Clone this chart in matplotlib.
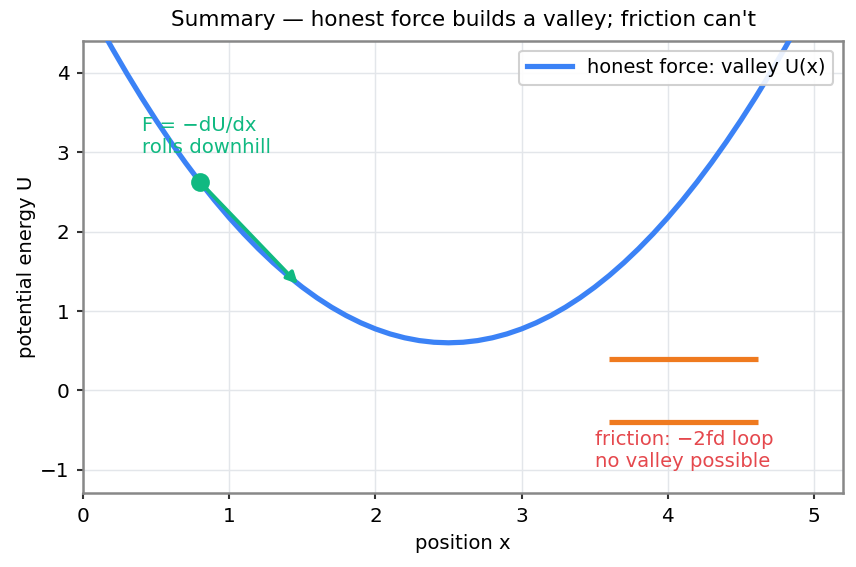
import matplotlib
matplotlib.use("Agg")
import matplotlib.pyplot as plt

# curve samples
x_vals = [0.0, 0.1, 0.2, 0.3, 0.4, 0.5, 0.6, 0.7, 0.8, 0.9, 1.0, 1.1, 1.2, 1.3, 1.4,
          1.5, 1.6, 1.7, 1.8, 1.9, 2.0, 2.1, 2.2, 2.3, 2.4, 2.5, 2.6, 2.7, 2.8, 2.9,
          3.0, 3.1, 3.2, 3.3, 3.4, 3.5, 3.6, 3.7, 3.8, 3.9, 4.0, 4.1, 4.2, 4.3, 4.4,
          4.5, 4.6, 4.7, 4.8, 4.9, 5.0]
u_vals = [4.975, 4.632, 4.303, 3.988, 3.687, 3.400, 3.127, 2.868, 2.623, 2.392, 2.175,
          1.972, 1.783, 1.608, 1.447, 1.300, 1.167, 1.048, 0.943, 0.852, 0.775, 0.712,
          0.663, 0.628, 0.607, 0.600, 0.607, 0.628, 0.663, 0.712, 0.775, 0.852, 0.943,
          1.048, 1.167, 1.300, 1.447, 1.608, 1.783, 1.972, 2.175, 2.392, 2.623, 2.868,
          3.127, 3.400, 3.687, 3.988, 4.303, 4.632, 4.975]

ball_x, ball_u = 0.8, 2.623
arrow_end_x, arrow_end_u = 1.47, 1.34
friction_x = [3.6, 4.62]
friction_levels = [0.4, -0.4]

BLUE = "#3b82f6"
GREEN = "#10b981"
ORANGE = "#ef7a1f"
RED = "#e5484d"

fig = plt.figure(figsize=(856/150, 567/150), dpi=150)
ax = fig.add_axes([0.097, 0.1305, 0.888, 0.7975])

ax.plot(x_vals, u_vals, color=BLUE, lw=2.5, label="honest force: valley U(x)", zorder=3)
ax.plot([ball_x], [ball_u], "o", color=GREEN, ms=8, zorder=5)
ax.annotate("", xy=(arrow_end_x, arrow_end_u), xytext=(ball_x, ball_u),
            arrowprops=dict(arrowstyle="-|>", color=GREEN, lw=1.8, mutation_scale=11,
                            shrinkA=0, shrinkB=0), zorder=4)
ax.text(0.4, 2.94, "F = \u2212dU/dx\nrolls downhill", color=GREEN, fontsize=9.4,
        va="bottom", ha="left")

for lvl in friction_levels:
    ax.plot(friction_x, [lvl, lvl], color=ORANGE, lw=2.5, solid_capstyle="butt", zorder=3)
ax.text(3.5, -0.5, "friction: \u22122fd loop\nno valley possible", color=RED, fontsize=9.4,
        va="top", ha="left")

ax.set_xlim(0, 5.2)
ax.set_ylim(-1.29, 4.4)
ax.set_xticks([0, 1, 2, 3, 4, 5])
ax.set_yticks([-1, 0, 1, 2, 3, 4])
ax.grid(True, color="#e3e6ea", lw=0.7)
ax.set_axisbelow(True)
for s in ax.spines.values():
    s.set_color("#888888")
    s.set_linewidth(1.2)
ax.tick_params(direction="out", length=3, width=1, color="#333333", labelsize=9.6)
ax.set_xlabel("position x", fontsize=9.4, labelpad=4)
ax.set_ylabel("potential energy U", fontsize=9.4, labelpad=2)
ax.set_title("Summary \u2014 honest force builds a valley; friction can't", fontsize=10.3, pad=7)
ax.legend(loc="upper right", fontsize=9.3, framealpha=0.9, edgecolor="#cccccc",
          handlelength=2.3)

fig.savefig("out.png", dpi=150)
